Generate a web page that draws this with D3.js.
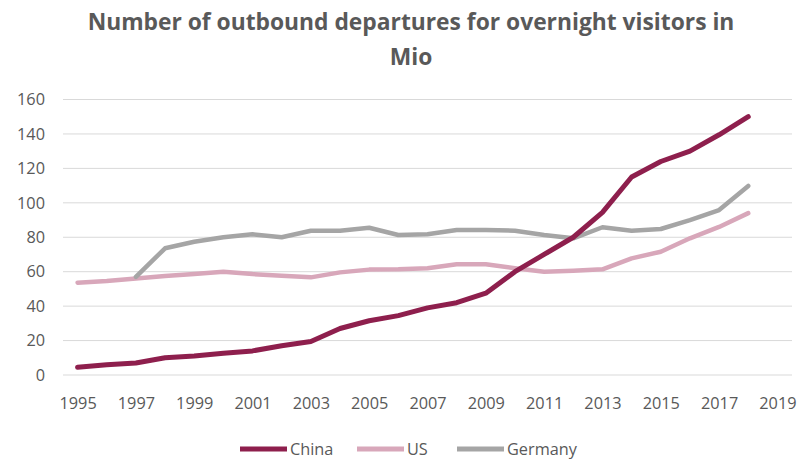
<!DOCTYPE html>
<html><head><meta charset="utf-8">
<script src="https://cdn.jsdelivr.net/npm/d3@7/dist/d3.min.js"></script>
<style>body{margin:0;background:#fff}svg{display:block}</style>
</head><body>
<svg id="c" width="801" height="459"></svg>
<script>
const years = d3.range(1995, 2020);
const dataYears = d3.range(1995, 2019);
const tickLabels = [1995,1997,1999,2001,2003,2005,2007,2009,2011,2013,2015,2017,2019];
const yTicks = [0,20,40,60,80,100,120,140,160];
const china = [4.5,6,7,10,11,12.6,14,17,19.5,27,31.5,34.5,39,42,47.5,60,70,80,94.5,115,124,130,139.5,150];
const us = [53.6,54.6,56,57.5,58.6,60,58.6,57.7,56.7,59.6,61.2,61.4,62,64.3,64.3,62,60,60.6,61.4,67.7,71.6,79.4,86,94];
const germany = [null,null,57,73.6,77.4,80,81.7,80,83.8,83.8,85.5,81.3,81.7,84.2,84.2,83.8,81.3,79.4,85.8,83.8,84.8,90,95.8,109.8];
const seriesNames = ["China","US","Germany"];
const seriesColors = ["#8E1F4D","#D8A7BA","#A5A5A5"];
const seriesData = [china, us, germany];

const svg = d3.select("#c");
const font = "'Open Sans', sans-serif";
const x = d3.scalePoint().domain(years).range([63, 792]).padding(0.5);
const y = d3.scaleLinear().domain([0,160]).range([375, 99.5]);

const t1 = svg.append("text").attr("x",411).attr("y",30).attr("text-anchor","middle")
  .attr("font-family",font).attr("font-weight","bold").attr("font-size",20).attr("fill","#595959")
  .text("Number of outbound departures for overnight visitors in");
const w = t1.node().getComputedTextLength();
const fs = 20 * 647 / w;
t1.attr("font-size", fs);
svg.append("text").attr("x",411).attr("y",65).attr("text-anchor","middle")
  .attr("font-family",font).attr("font-weight","bold").attr("font-size",fs).attr("fill","#595959")
  .text("Mio");

// gridlines
svg.append("g").selectAll("line").data(yTicks).join("line")
  .attr("x1",63).attr("x2",792).attr("y1",d=>y(d)).attr("y2",d=>y(d))
  .attr("stroke","#D9D9D9").attr("stroke-width",1);

// y axis labels
const yAxis = d3.axisLeft(y).tickValues(yTicks).tickSize(0).tickPadding(0);
const gy = svg.append("g").attr("transform","translate(45,0)").call(yAxis);
gy.select(".domain").remove();
gy.selectAll("text").attr("font-family",font).attr("font-size",16.3).attr("fill","#595959").attr("text-anchor","end").attr("x",0);

// x axis labels
const xAxis = d3.axisBottom(x).tickValues(tickLabels).tickSize(0).tickPadding(0).tickFormat(d=>d);
const gx = svg.append("g").attr("transform","translate(0,408.5)").call(xAxis);
gx.select(".domain").remove();
gx.selectAll("text").attr("font-family",font).attr("font-size",16.3).attr("fill","#595959").attr("y",0).attr("dy",0);

// lines
const line = d3.line().defined(d=>d.v!=null).x(d=>x(d.yr)).y(d=>y(d.v)).curve(d3.curveLinear);
[1,2,0].forEach(i=>{
  const pts = dataYears.map((yr,j)=>({yr, v: seriesData[i][j]}));
  svg.append("path").datum(pts).attr("d",line).attr("fill","none")
    .attr("stroke",seriesColors[i]).attr("stroke-width", i===0?5:4.5)
    .attr("stroke-linejoin","round").attr("stroke-linecap","round");
});

// legend
const legX = [240, 357, 457];
const lg = svg.append("g");
seriesNames.forEach((n,i)=>{
  lg.append("line").attr("x1",legX[i]).attr("x2",legX[i]+47).attr("y1",449).attr("y2",449)
    .attr("stroke",seriesColors[i]).attr("stroke-width",5);
  lg.append("text").attr("x",legX[i]+50).attr("y",455)
    .attr("font-family",font).attr("font-size",16.3).attr("fill","#595959").text(n);
});
</script>
</body></html>
